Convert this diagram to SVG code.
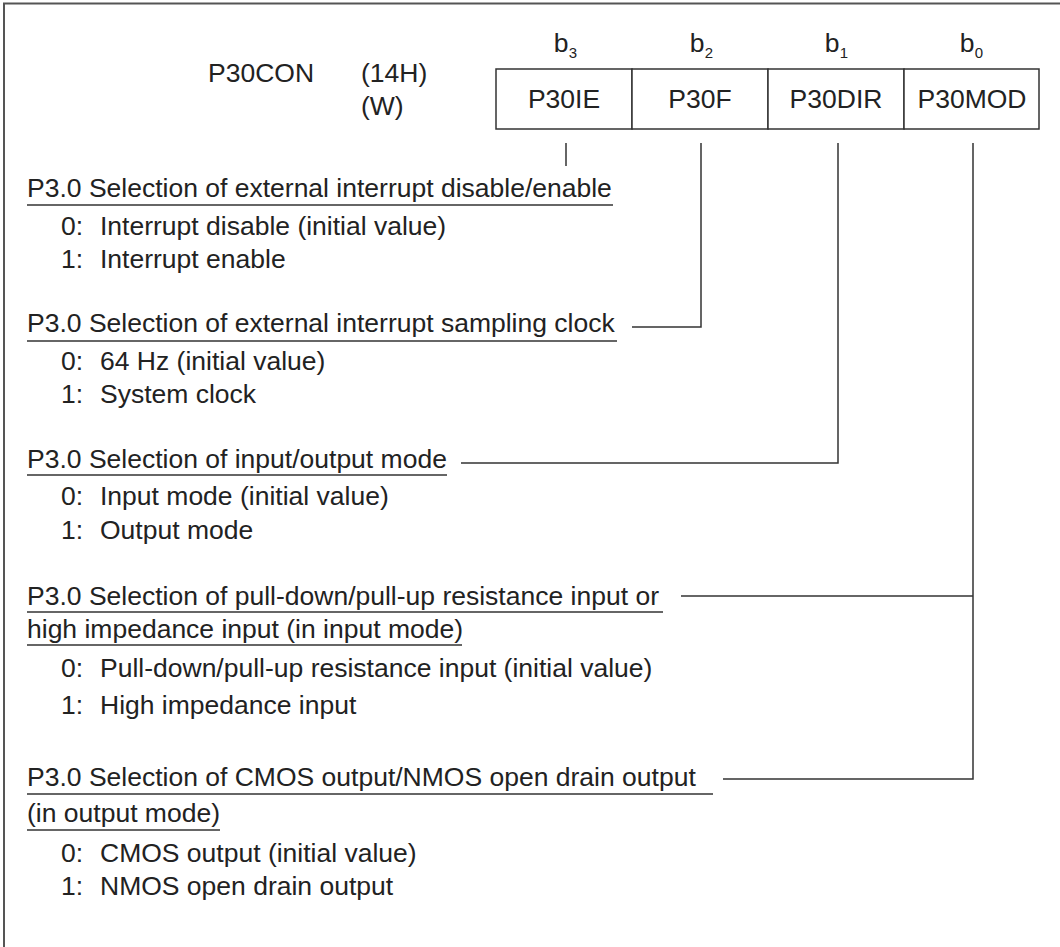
<svg xmlns="http://www.w3.org/2000/svg" width="1060" height="947" viewBox="0 0 1060 947">
<style>
text{font-family:"Liberation Sans",Arial,sans-serif;font-size:26.5px;fill:#222}
.sub{font-size:15px}
.c{text-anchor:middle}
.ln{stroke:#333;stroke-width:1.5;fill:none}
.ul{stroke:#333;stroke-width:1.5}
.frame{stroke:#555;stroke-width:2;fill:none}
.cell{fill:#fff;stroke:#333;stroke-width:1.5}
</style>
<rect width="1060" height="947" fill="#fff"/>
<path class="frame" d="M4,947 V3.5 H1060"/>
<g id="title">
<text x="208" y="82">P30CON</text>
<text x="361" y="82">(14H)</text>
<text x="361" y="115">(W)</text>
</g>
<g id="bits">
<text x="561" y="52" class="c">b</text><text x="573" y="58" class="sub c">3</text>
<text x="697" y="52" class="c">b</text><text x="709" y="58" class="sub c">2</text>
<text x="832" y="52" class="c">b</text><text x="844" y="58" class="sub c">1</text>
<text x="967" y="52" class="c">b</text><text x="979" y="58" class="sub c">0</text>
</g>
<g id="reg-P30IE"><rect class="cell" x="496" y="69" width="136" height="60"/><text x="564" y="108" class="c">P30IE</text></g>
<g id="reg-P30F"><rect class="cell" x="632" y="69" width="136" height="60"/><text x="700" y="108" class="c">P30F</text></g>
<g id="reg-P30DIR"><rect class="cell" x="768" y="69" width="136" height="60"/><text x="836" y="108" class="c">P30DIR</text></g>
<g id="reg-P30MOD"><rect class="cell" x="904" y="69" width="135" height="60"/><text x="972" y="108" class="c">P30MOD</text></g>
<g id="connectors">
<path class="ln" d="M566,143 V166"/>
<path class="ln" d="M701,143 V327 H632"/>
<path class="ln" d="M838,143 V463 H461"/>
<path class="ln" d="M973,143 V779 H723"/>
<path class="ln" d="M973,596 H681"/>
</g>
<g id="sec-ie">
<text x="27" y="197">P3.0 Selection of external interrupt disable/enable</text>
<line class="ul" x1="27" y1="205" x2="613" y2="205"/>
<text x="61" y="235">0:<tspan x="100">Interrupt disable (initial value)</tspan></text>
<text x="61" y="268">1:<tspan x="100">Interrupt enable</tspan></text>
</g>
<g id="sec-f">
<text x="27" y="332">P3.0 Selection of external interrupt sampling clock</text>
<line class="ul" x1="27" y1="341" x2="617" y2="341"/>
<text x="61" y="370">0:<tspan x="100">64 Hz (initial value)</tspan></text>
<text x="61" y="403">1:<tspan x="100">System clock</tspan></text>
</g>
<g id="sec-dir">
<text x="27" y="468">P3.0 Selection of input/output mode</text>
<line class="ul" x1="27" y1="475" x2="447" y2="475"/>
<text x="61" y="505">0:<tspan x="100">Input mode (initial value)</tspan></text>
<text x="61" y="539">1:<tspan x="100">Output mode</tspan></text>
</g>
<g id="sec-mod-in">
<text x="27" y="605">P3.0 Selection of pull-down/pull-up resistance input or</text>
<line class="ul" x1="27" y1="612" x2="663" y2="612"/>
<text x="27" y="638">high impedance input (in input mode)</text>
<line class="ul" x1="27" y1="645" x2="462" y2="645"/>
<text x="61" y="677">0:<tspan x="100">Pull-down/pull-up resistance input (initial value)</tspan></text>
<text x="61" y="714">1:<tspan x="100">High impedance input</tspan></text>
</g>
<g id="sec-mod-out">
<text x="27" y="786">P3.0 Selection of CMOS output/NMOS open drain output</text>
<line class="ul" x1="27" y1="794" x2="713" y2="794"/>
<text x="27" y="822">(in output mode)</text>
<line class="ul" x1="27" y1="830" x2="220" y2="830"/>
<text x="61" y="862">0:<tspan x="100">CMOS output (initial value)</tspan></text>
<text x="61" y="895">1:<tspan x="100">NMOS open drain output</tspan></text>
</g>
</svg>
